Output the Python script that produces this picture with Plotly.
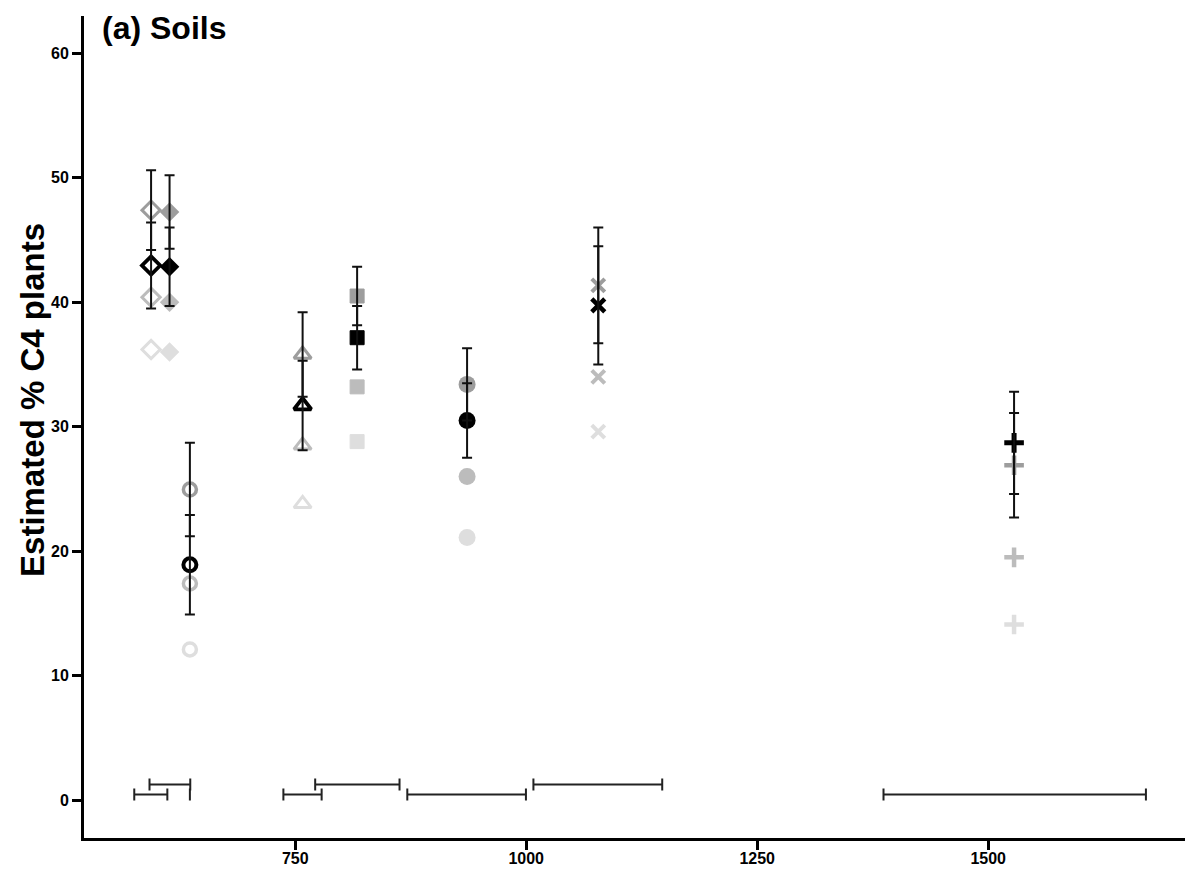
import plotly.graph_objects as go

# ---- data ----
sites = ["open diamond", "filled diamond", "open circle", "open triangle",
         "filled square", "filled circle", "cross", "plus"]
site_x = [594, 614, 636, 758, 817, 936, 1078, 1528]

black_y = [42.95, 42.85, 18.9, 31.7, 37.15, 30.5, 39.75, 28.7]
black_err = [3.45, 3.15, 4.0, 3.6, 2.55, 3.0, 4.75, 4.1]
gray_y = [47.4, 47.25, 24.95, 35.8, 40.5, 33.4, 41.35, 26.9]
gray_err = [3.2, 2.95, 3.75, 3.4, 2.35, 2.9, 4.65, 4.2]
light_y = [40.4, 40.0, 17.4, 28.5, 33.2, 26.0, 34.0, 19.5]
lightest_y = [36.2, 36.0, 12.1, 23.8, 28.8, 21.1, 29.6, 14.1]

range_lo = [575.8, 592.3, 636, 737.2, 771.6, 871.3, 1007.8, 1386.7]
range_hi = [611.6, 636.4, 636, 778.6, 862.9, 999.7, 1147.2, 1670.7]
range_row = [0.45, 1.25, 0.45, 0.45, 1.25, 0.45, 1.25, 0.45]

x_ticks = [750, 1000, 1250, 1500]
y_ticks = [0, 10, 20, 30, 40, 50, 60]

# ---- styles ----
symbols = ["diamond-open", "diamond", "circle-open", "triangle-up-open",
           "square", "circle", "x-thin-open", "cross-thin-open"]
sizes = [14, 15, 13, 15, 14, 17, 13, 14]
open_lw = [3, 0, 3.5, 3, 1, 0, 4, 4.5]
black_lw = [3.8, 0, 4, 3.8, 1, 0, 4.5, 5]

FONT = "Liberation Sans, Arial, sans-serif"

fig = go.Figure()

def marker_trace(y, color, lw):
    return go.Scatter(
        x=site_x, y=y, mode="markers", showlegend=False, hoverinfo="skip",
        marker=dict(symbol=symbols, size=sizes, color=color, opacity=1,
                    line=dict(color=color, width=lw)),
    )

fig.add_trace(marker_trace(lightest_y, "#dedede", open_lw))
fig.add_trace(marker_trace(light_y, "#bcbcbc", open_lw))
fig.add_trace(marker_trace(gray_y, "#9d9d9d", open_lw))
fig.add_trace(marker_trace(black_y, "#000000", black_lw))

def err_trace(y, err):
    return go.Scatter(
        x=site_x, y=y, mode="markers", showlegend=False, hoverinfo="skip",
        marker=dict(size=1, color="rgba(0,0,0,0)"),
        error_y=dict(type="data", array=err, visible=True,
                     color="#111111", thickness=2, width=5),
    )

fig.add_trace(err_trace(gray_y, gray_err))
fig.add_trace(err_trace(black_y, black_err))

# age-range bars near the bottom
fig.add_trace(go.Scatter(
    x=site_x, y=range_row, mode="markers", showlegend=False, hoverinfo="skip",
    marker=dict(size=1, color="rgba(0,0,0,0)"),
    error_x=dict(type="data", symmetric=False,
                 array=[h - x for h, x in zip(range_hi, site_x)],
                 arrayminus=[x - l for x, l in zip(site_x, range_lo)],
                 visible=True, color="#222222", thickness=2, width=6),
))

# the page body adds an 8px margin, so the figure is sized/placed to compensate
fig.update_layout(
    width=1189, height=862,
    margin=dict(l=76, r=12, t=8, b=32, autoexpand=False),
    paper_bgcolor="white", plot_bgcolor="white",
    font=dict(family=FONT, color="black"),
    xaxis=dict(range=[521.4, 1713], tickvals=x_ticks, showgrid=False,
               zeroline=False, showline=True, linecolor="black", linewidth=3,
               ticks="outside", ticklen=9, tickwidth=3, tickcolor="black",
               ticklabelstandoff=-5, automargin=False,
               tickfont=dict(family=FONT, size=16, weight="bold")),
    yaxis=dict(range=[-3.05, 63], tickvals=y_ticks, showgrid=False,
               zeroline=False, showline=True, linecolor="black", linewidth=3,
               ticks="outside", ticklen=9, tickwidth=3, tickcolor="black",
               automargin=False,
               tickfont=dict(family=FONT, size=16, weight="bold")),
    annotations=[
        dict(text="(a) Soils", xref="paper", yref="paper",
             x=0.0145, y=0.9854, xanchor="left", yanchor="middle",
             showarrow=False,
             font=dict(family=FONT, size=32, weight="bold", color="black")),
        dict(text="Estimated % C4 plants", xref="paper", yref="paper",
             x=-0.0463, y=0.533, xanchor="center", yanchor="middle",
             textangle=-90, showarrow=False,
             font=dict(family=FONT, size=33, weight="bold", color="black")),
    ],
)

fig.write_html("out.html")
